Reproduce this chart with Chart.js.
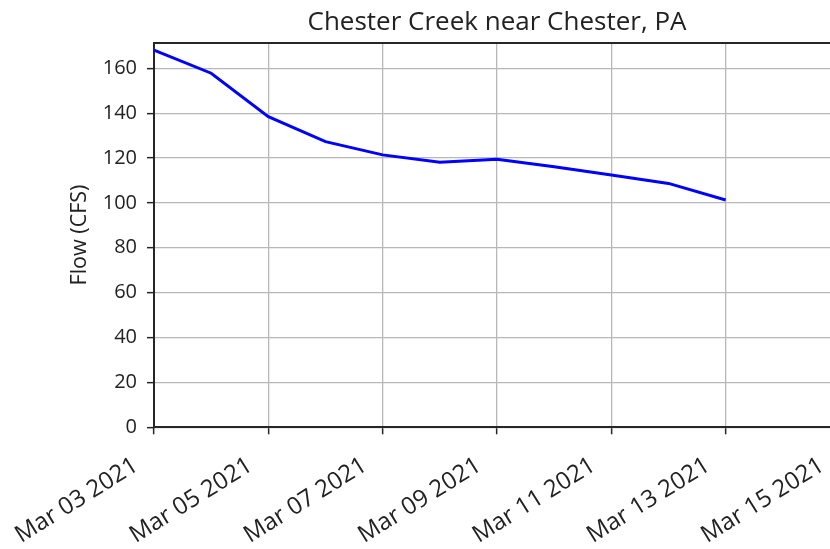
<!DOCTYPE html>
<html>
<head>
<meta charset="utf-8">
<script src="https://cdn.jsdelivr.net/npm/chart.js@4/dist/chart.umd.min.js"></script>
<style>
  html, body { margin: 0; padding: 0; background: #fff; overflow: hidden; width: 830px; height: 549px; }
  #wrap { width: 850px; height: 549px; }
</style>
</head>
<body>
<div id="wrap"><canvas id="c" width="850" height="549"></canvas></div>
<script>
const startDate = '2021-03-03';
const dates = ['2021-03-03','2021-03-04','2021-03-05','2021-03-06','2021-03-07','2021-03-08','2021-03-09','2021-03-10','2021-03-11','2021-03-12','2021-03-13'];
const flow = [168.1, 157.8, 138.4, 127.3, 121.4, 118.1, 119.5, 116.1, 112.4, 108.7, 101.3];
const xTickLabels = ['Mar 03 2021','Mar 05 2021','Mar 07 2021','Mar 09 2021','Mar 11 2021','Mar 13 2021','Mar 15 2021'];
const xTickDays = [0, 2, 4, 6, 8, 10, 12];
const yTicks = [0, 20, 40, 60, 80, 100, 120, 140, 160];
const yMax = 171.4;
const titleText = 'Chester Creek near Chester, PA';
const yLabel = 'Flow (CFS)';

const dayMs = 86400000;
const t0 = Date.parse(startDate);
const points = dates.map((d, i) => ({ x: (Date.parse(d) - t0) / dayMs, y: flow[i] }));

Chart.defaults.font.family = "'Open Sans', sans-serif";
Chart.defaults.color = '#222';

const spine = '#262626';
const gridC = '#b8b8b8';

new Chart(document.getElementById('c'), {
  type: 'line',
  data: {
    datasets: [{
      data: points,
      borderColor: '#0000ff',
      borderWidth: 3,
      pointRadius: 0,
      tension: 0,
      fill: false
    }]
  },
  options: {
    responsive: false,
    animation: false,
    devicePixelRatio: 1,
    layout: { padding: { left: 0, right: 10, top: 0, bottom: 0 } },
    plugins: {
      legend: { display: false },
      tooltip: { enabled: false },
      title: {
        display: true,
        fullSize: false,
        text: titleText,
        color: '#222',
        font: { size: 26, weight: 'normal' },
        padding: { top: 6.5, bottom: 5 }
      }
    },
    scales: {
      x: {
        type: 'linear',
        position: 'bottom',
        min: xTickDays[0],
        max: xTickDays[xTickDays.length - 1],
        afterBuildTicks: s => { s.ticks = xTickDays.map(v => ({ value: v })); },
        afterFit: s => { s.height = 121.7; s.paddingLeft = 0; s.paddingRight = 0; },
        ticks: {
          autoSkip: false,
          minRotation: 32,
          maxRotation: 32,
          padding: 17,
          labelOffset: -18,
          font: { size: 24 },
          color: '#222',
          callback: v => xTickLabels[xTickDays.indexOf(v)]
        },
        grid: { color: gridC, lineWidth: 1.3, tickColor: spine, tickLength: 7, tickWidth: 1.5 },
        border: { display: true, color: spine, width: 2 }
      },
      x2: {
        type: 'linear',
        position: 'top',
        min: 0, max: 12,
        afterFit: s => { s.height = 0; s.paddingLeft = 0; s.paddingRight = 0; },
        ticks: { display: false },
        grid: { display: false, drawTicks: false },
        border: { display: true, color: spine, width: 2 }
      },
      y: {
        type: 'linear',
        min: 0,
        max: yMax,
        afterBuildTicks: s => { s.ticks = yTicks.map(v => ({ value: v })); },
        afterFit: s => { s.width = 154; },
        ticks: {
          padding: 10,
          font: { size: 20 },
          color: '#222'
        },
        title: {
          display: true,
          text: yLabel,
          color: '#222',
          font: { size: 21.5 },
          padding: { top: 67, bottom: 0 }
        },
        grid: { color: gridC, lineWidth: 1.3, tickColor: spine, tickLength: 7, tickWidth: 1.5 },
        border: { display: true, color: spine, width: 2 }
      }
    }
  }
});
</script>
</body>
</html>
